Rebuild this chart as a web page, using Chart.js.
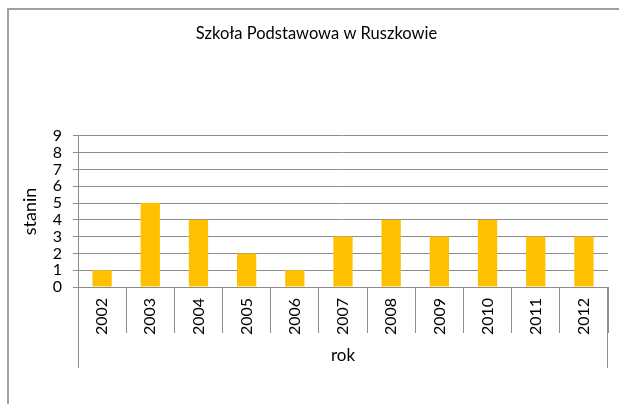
<!DOCTYPE html>
<html>
<head>
<meta charset="utf-8">
<script src="https://cdn.jsdelivr.net/npm/chart.js@4/dist/chart.umd.min.js"></script>
<style>
html,body{margin:0;padding:0;background:#fff;}
canvas{display:block;}
</style>
</head>
<body>
<canvas id="c" width="619" height="404"></canvas>
<script>
const categories = ['2002','2003','2004','2005','2006','2007','2008','2009','2010','2011','2012'];
const staninValues = [1,5,4,2,1,3,4,3,4,3,3];
const yTickValues = [0,1,2,3,4,5,6,7,8,9];
const chartTitle = 'Szkoła Podstawowa w Ruszkowie';
const yTitle = 'stanin';
const xTitle = 'rok';

const FONT = 'Lato, "Open Sans", sans-serif';

const framePlugin = {
  id: 'frame',
  beforeDraw(chart) {
    const ctx = chart.ctx;
    ctx.save();
    ctx.fillStyle = '#fff';
    ctx.fillRect(0, 0, chart.width, chart.height);
    ctx.strokeStyle = '#a0a0a0';
    ctx.lineWidth = 2;
    ctx.beginPath();
    ctx.moveTo(8, 404);
    ctx.lineTo(8, 9);
    ctx.lineTo(619, 9);
    ctx.stroke();
    ctx.restore();
  },
  afterDraw(chart) {
    const ctx = chart.ctx;
    const a = chart.chartArea;
    ctx.save();
    ctx.strokeStyle = '#8c8c8c';
    ctx.lineWidth = 1;
    ctx.beginPath();
    ctx.moveTo(Math.round(a.left) + 0.5, a.bottom);
    ctx.lineTo(Math.round(a.left) + 0.5, 368);
    ctx.moveTo(Math.round(a.right) - 0.5, a.bottom);
    ctx.lineTo(Math.round(a.right) - 0.5, 368);
    ctx.stroke();
    ctx.restore();
  }
};

new Chart(document.getElementById('c'), {
  type: 'bar',
  data: {
    labels: categories,
    datasets: [{
      data: staninValues,
      backgroundColor: '#FFC000',
      borderWidth: 0,
      barPercentage: 0.4,
      categoryPercentage: 1.0
    }]
  },
  options: {
    responsive: false,
    animation: false,
    devicePixelRatio: 1,
    layout: { padding: { left: 25, right: 11, top: 0, bottom: 0 } },
    plugins: {
      legend: { display: false },
      tooltip: { enabled: false },
      title: {
        display: true,
        text: chartTitle,
        color: '#000',
        font: { family: FONT, size: 16.5, weight: 'normal' },
        padding: { top: 24, bottom: 92 }
      }
    },
    scales: {
      x: {
        offset: true,
        grid: {
          offset: true,
          drawOnChartArea: false,
          drawTicks: true,
          tickLength: 46,
          color: '#8c8c8c',
          lineWidth: 1
        },
        border: { display: true, color: '#8c8c8c', width: 1 },
        ticks: {
          color: '#000',
          font: { family: FONT, size: 16 },
          minRotation: 90,
          maxRotation: 90,
          autoSkip: false,
          padding: -35
        },
        title: {
          display: true,
          text: xTitle,
          color: '#000',
          font: { family: FONT, size: 17 },
          padding: { top: 0, bottom: 38 }
        },
        afterFit(scale) { scale.height = 117; }
      },
      y: {
        min: 0,
        max: 9,
        afterBuildTicks(scale) { scale.ticks = yTickValues.map(v => ({ value: v })); },
        grid: {
          color: '#8c8c8c',
          lineWidth: 1,
          tickLength: 5
        },
        border: { display: true, color: '#8c8c8c', width: 1 },
        ticks: {
          color: '#000',
          font: { family: FONT, size: 16 },
          padding: 11,
          autoSkip: false,
          stepSize: 1
        },
        title: {
          display: true,
          text: yTitle,
          color: '#000',
          font: { family: FONT, size: 18 },
          padding: { top: -6, bottom: 0 }
        },
        afterFit(scale) { scale.width = 53; }
      }
    }
  },
  plugins: [framePlugin]
});
</script>
</body>
</html>
